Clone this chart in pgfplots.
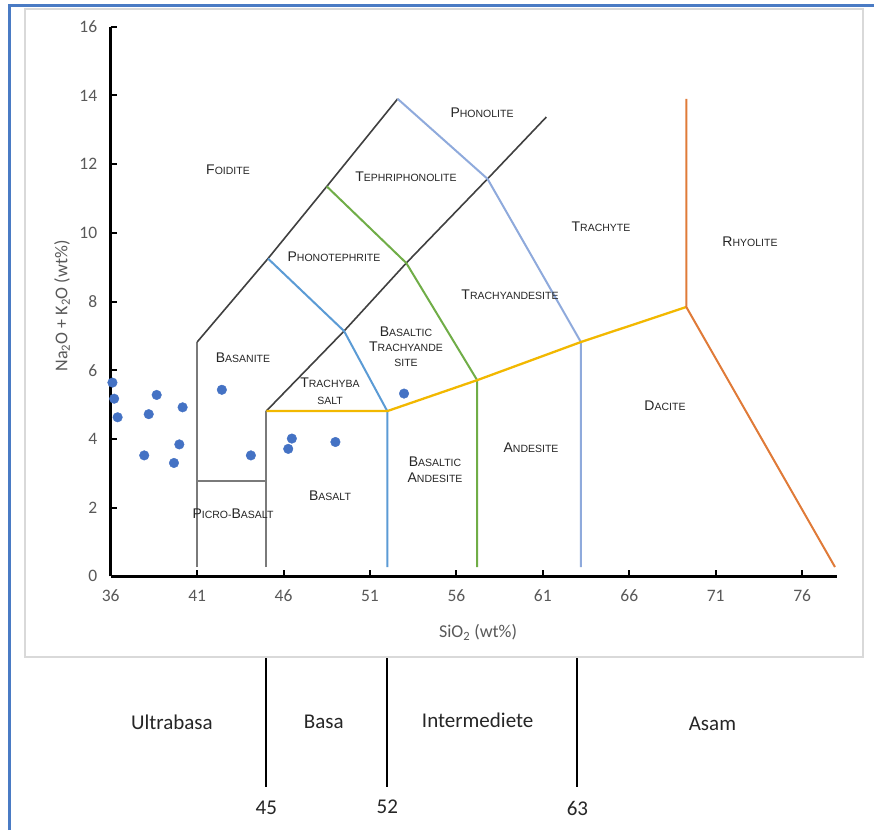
\documentclass[border=0pt]{standalone}
\usepackage{pgfplots}
\pgfplotsset{compat=1.18}
\usepackage{fontspec}
\setmainfont{Carlito}
\newfontfamily\arialf{Liberation Sans}
\definecolor{tickgray}{HTML}{595959}
\definecolor{labgray}{HTML}{262626}
\definecolor{panel}{HTML}{D9D9D9}
\definecolor{frameblue}{HTML}{4A7BC4}
\definecolor{ptblue}{HTML}{4472C4}
\definecolor{dkline}{HTML}{404040}
\definecolor{gyline}{HTML}{7A7A7A}
\definecolor{bline}{HTML}{5B9BD5}
\definecolor{gline}{HTML}{70AD47}
\definecolor{lline}{HTML}{8FAADC}
\definecolor{yline}{HTML}{F2B800}
\definecolor{oline}{HTML}{E07B39}
\newcommand\sct[2]{{\fontsize{14}{15}\selectfont #1}{\fontsize{10.5}{12}\selectfont #2}}
\begin{document}
\begin{tikzpicture}[x=1pt,y=1pt]
\useasboundingbox (0,0) rectangle (874,-830);
\fill[white] (0,0) rectangle (874,-830);
\draw[panel, line width=2pt, fill=white] (25,-9) rectangle (862.7,-657);
\draw[frameblue, line width=3pt] (9,-830) -- (9,-5) -- (874,-5);
\begin{axis}[
  at={(110.7pt,-576.3pt)}, anchor=south west,
  scale only axis, width=726pt, height=549.6pt,
  xmin=36, xmax=78, ymin=0, ymax=16,
  axis lines=left, axis line style={-, line width=2.6pt, black},
  xtick={36,41,...,76}, ytick={0,2,...,16},
  tick align=inside, major tick length=6pt,
  tick style={line width=2pt, black},
  ticklabel style={font=\fontsize{17.5}{19}\selectfont, text=tickgray},
  /pgf/number format/assume math mode=true,
  yticklabel style={xshift=-10pt},
  xticklabel style={yshift=-10pt},
  xlabel={SiO\textsubscript{2} (wt\%)},
  ylabel={Na\textsubscript{2}O + K\textsubscript{2}O (wt\%)},
  label style={font=\fontsize{18}{20}\selectfont, text=tickgray},
  xlabel style={at={(rel axis cs:0.506,0)}, anchor=center, yshift=-56pt},
  ylabel style={at={(rel axis cs:-0.067,0.492)}, anchor=center},
  clip=false,
]
% boundaries
\addplot[gyline, line width=1.8pt] coordinates {(41,0.27) (41,6.82)};
\addplot[gyline, line width=1.8pt] coordinates {(45,0.27) (45,4.81)};
\addplot[gyline, line width=1.8pt] coordinates {(41,2.78) (45,2.78)};
\addplot[dkline, line width=1.6pt] coordinates {(41,6.82) (45.1,9.25) (48.5,11.35) (52.6,13.9)};
\addplot[dkline, line width=1.6pt] coordinates {(45,4.81) (49.5,7.14) (53.1,9.12) (57.8,11.57) (61.2,13.37)};
\addplot[bline, line width=2pt] coordinates {(45.1,9.25) (49.5,7.14) (52,4.81) (52,0.27)};
\addplot[gline, line width=2pt] coordinates {(48.5,11.35) (53.1,9.12) (57.2,5.71) (57.2,0.27)};
\addplot[lline, line width=2pt] coordinates {(52.6,13.9) (57.8,11.57) (63.2,6.82) (63.2,0.27)};
\addplot[yline, line width=2.3pt] coordinates {(45,4.81) (52,4.81) (57.2,5.71) (63.2,6.82) (69.3,7.84)};
\addplot[oline, line width=2pt] coordinates {(69.3,13.9) (69.3,7.84) (77.9,0.27)};
% samples
\addplot[only marks, mark=*, mark size=4.8pt, mark options={fill=ptblue, draw=ptblue}] coordinates {
(36.1,5.64) (36.2,5.17) (36.4,4.63) (38.66,5.28) (38.2,4.72) (40.16,4.92)
(37.94,3.52) (39.97,3.84) (39.66,3.30) (42.43,5.43) (44.11,3.52)
(46.48,4.01) (46.27,3.71) (49.0,3.91) (52.97,5.32)};
% lower classification
\addplot[black, line width=2pt] coordinates {(45,-2.38) (45,-6.13)};
\addplot[black, line width=2pt] coordinates {(52,-2.38) (52,-6.13)};
\addplot[black, line width=2pt] coordinates {(63,-2.38) (63,-6.13)};
\begin{scope}[every node/.style={font=\fontsize{21}{23}\selectfont, text=black!85}]
\node at (axis cs:45,-6.75) {45};
\node at (axis cs:52,-6.70) {52};
\node at (axis cs:63,-6.75) {63};
\node at (axis cs:39.54,-4.24) {Ultrabasa};
\node at (axis cs:48.33,-4.24) {Basa};
\node at (axis cs:57.23,-4.18) {Intermediete};
\node at (axis cs:70.81,-4.30) {Asam};
\end{scope}
\end{axis}
% region labels
\begin{scope}[every node/.style={font=\arialf, text=labgray, inner sep=0pt, align=center}]
\node at (228,-170) {\sct{F}{OIDITE}};
\node at (482,-113) {\sct{P}{HONOLITE}};
\node at (406,-177) {\sct{T}{EPHRIPHONOLITE}};
\node at (334,-257) {\sct{P}{HONOTEPHRITE}};
\node at (601,-227) {\sct{T}{RACHYTE}};
\node at (750,-242) {\sct{R}{HYOLITE}};
\node at (510,-295) {\sct{T}{RACHYANDESITE}};
\node at (406,-332) {\sct{B}{ASALTIC}};
\node at (406,-347) {\sct{T}{RACHYANDE}};
\node at (406,-363) {\sct{}{SITE}};
\node at (243,-358) {\sct{B}{ASANITE}};
\node at (330,-383) {\sct{T}{RACHYBA}};
\node at (330,-401) {\sct{}{SALT}};
\node at (665,-406) {\sct{D}{ACITE}};
\node at (531,-448) {\sct{A}{NDESITE}};
\node at (435,-462) {\sct{B}{ASALTIC}};
\node at (435,-478) {\sct{A}{NDESITE}};
\node at (330,-496) {\sct{B}{ASALT}};
\node at (233,-514) {\sct{P}{ICRO-}\sct{B}{ASALT}};
\end{scope}
\end{tikzpicture}
\end{document}
